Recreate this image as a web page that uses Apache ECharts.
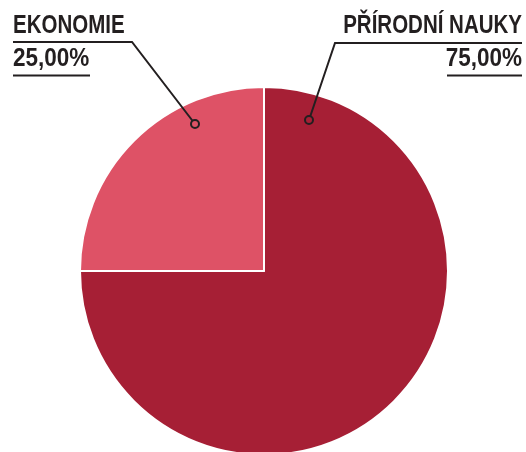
<!DOCTYPE html>
<html><head><meta charset="utf-8">
<script src="https://cdn.jsdelivr.net/npm/echarts@6/dist/echarts.min.js"></script>
<style>html,body{margin:0;padding:0;background:#fff}#c{width:526px;height:452px}</style>
</head><body><div id="c"></div>
<script>
const categories = ['PŘÍRODNÍ NAUKY', 'EKONOMIE'];
const values = [75, 25];
const percentLabels = ['75,00%', '25,00%'];
const colors = ['#A61F35', '#DE5266'];

const FONT = 'bold 25px "Liberation Sans", Arial, sans-serif';
const INK = '#231F20';
// label placement per category (layout only)
const labelPos = [
  { x: 522, align: 'right', line: [[309, 120], [335, 43], [522, 43]], under: [447, 522] },
  { x: 13, align: 'left', line: [[195, 124], [132, 42], [13, 42]], under: [13, 90] }
];

const graphics = [];
categories.forEach((name, i) => {
  const L = labelPos[i];
  graphics.push({ type: 'text', x: L.x, y: 26, scaleX: 0.82, z: 100,
    style: { text: name, font: FONT, fill: INK, textAlign: L.align, textVerticalAlign: 'middle' } });
  graphics.push({ type: 'text', x: L.x, y: 59, scaleX: 0.9, z: 100,
    style: { text: percentLabels[i], font: FONT, fill: INK, textAlign: L.align, textVerticalAlign: 'middle' } });
  graphics.push({ type: 'polyline', shape: { points: L.line }, style: { stroke: INK, lineWidth: 2, fill: null }, z: 99 });
  graphics.push({ type: 'line', shape: { x1: L.under[0], y1: 75.5, x2: L.under[1], y2: 75.5 }, style: { stroke: INK, lineWidth: 2 }, z: 99 });
  graphics.push({ type: 'circle', shape: { cx: L.line[0][0], cy: L.line[0][1], r: 4 }, style: { fill: colors[i], stroke: INK, lineWidth: 2 }, z: 101 });
});

const chart = echarts.init(document.getElementById('c'), null, { renderer: 'canvas' });
chart.setOption({
  animation: false,
  series: [{
    type: 'pie',
    center: [264, 271],
    radius: [0, 184],
    startAngle: 90,
    clockwise: true,
    silent: true,
    data: categories.map((c, i) => ({ name: c, value: values[i], itemStyle: { color: colors[i] } })),
    itemStyle: { borderColor: '#fff', borderWidth: 2 },
    label: { show: false },
    labelLine: { show: false }
  }],
  graphic: graphics
});
</script></body></html>
